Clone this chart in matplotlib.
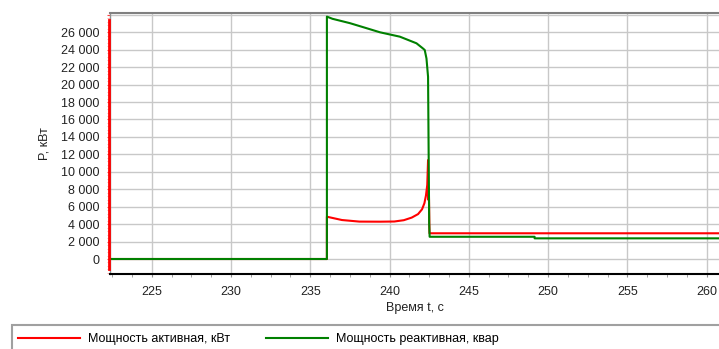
import matplotlib
matplotlib.use('Agg')
import matplotlib.pyplot as plt
from matplotlib.ticker import MultipleLocator, FuncFormatter
from matplotlib.patches import Rectangle
from matplotlib.lines import Line2D

plt.rcParams['font.family'] = ['Liberation Sans', 'DejaVu Sans']
plt.rcParams['font.size'] = 9

# Время, с и мощности
t_p = [222.37, 236.05, 236.05, 237.0, 238.1, 239.4, 240.3, 240.9, 241.4, 241.8,
       242.05, 242.2, 242.3, 242.38, 242.43, 242.44, 242.48, 242.52, 260.8]
p_akt = [0, 0, 4850, 4470, 4290, 4280, 4300, 4450, 4750, 5150,
         5700, 6400, 7300, 8500, 11350, 6800, 8100, 2950, 2950]

t_q = [222.37, 236.05, 236.05, 236.4, 237.5, 238.5, 239.4, 240.65, 241.7, 242.1,
       242.22, 242.33, 242.43, 242.49, 242.5, 242.53, 249.15, 249.15, 260.8]
q_react = [0, 0, 27800, 27550, 27050, 26500, 26000, 25500, 24740, 24160,
           23970, 23000, 20900, 6770, 4090, 2550, 2550, 2370, 2370]

labels = ['Мощность активная, кВт', 'Мощность реактивная, квар']


def fmt_kw(v, pos):
    if v > 27000:
        return ''
    return f'{int(v):,}'.replace(',', ' ')


fig = plt.figure(figsize=(7.19, 3.49), dpi=100)
ax = fig.add_axes([110 / 719, 75 / 349, 609 / 719, 260.7 / 349])

ax.plot(t_p, p_akt, color='#ff0000', lw=1.5, zorder=3)
ax.plot(t_q, q_react, color='#008000', lw=1.5, zorder=4)

ax.set_xlim(222.37, 260.78)
ax.set_ylim(-1720, 28180)

ax.xaxis.set_major_locator(MultipleLocator(5))
ax.xaxis.set_minor_locator(MultipleLocator(1.25))
ax.yaxis.set_major_locator(MultipleLocator(2000))
ax.yaxis.set_minor_locator(MultipleLocator(400))
ax.yaxis.set_major_formatter(FuncFormatter(fmt_kw))

ax.grid(True, which='major', color='#c8c8c8', lw=1)
ax.set_axisbelow(True)

ax.tick_params(axis='x', which='both', direction='out', length=2.5, color='#909090',
               pad=6, labelsize=9, labelcolor='#222222')
ax.tick_params(axis='y', which='major', direction='out', length=2.5, color='#ff4040',
               pad=5, labelsize=9, labelcolor='#222222')
ax.tick_params(axis='y', which='minor', direction='out', length=2, color='#ffa0a0')

for s in ['top', 'bottom', 'left', 'right']:
    ax.spines[s].set_linewidth(1.5)
ax.spines['top'].set_color('#808080')
ax.spines['bottom'].set_color('#000000')
ax.spines['left'].set_color('#909090')
ax.spines['left'].set_linewidth(1)
ax.spines['right'].set_visible(False)

# красная ось мощности
ax.plot([-0.002, -0.002], [0.02, 0.976], transform=ax.transAxes, color='#ff0000',
        lw=2, clip_on=False, zorder=5)

ax.set_xlabel('Время t, с', fontsize=9, labelpad=3, color='#222222')
ax.set_ylabel('P, кВт', fontsize=9, color='#222222')
ax.yaxis.set_label_coords(-0.097, 0.5)

# легенда
fig.patches.append(Rectangle((12 / 719, -10 / 349), 720 / 719, 34 / 349,
                             transform=fig.transFigure, fill=False,
                             edgecolor='#a0a0a0', lw=1.5))
handles = [Line2D([], [], color='#ff0000', lw=1.5), Line2D([], [], color='#008000', lw=1.5)]
fig.legend(handles, labels, loc='center left', bbox_to_anchor=(15 / 719, 10 / 349),
           ncol=2, frameon=False, fontsize=9, handlelength=5.0, handletextpad=0.6,
           columnspacing=2.9, borderaxespad=0, borderpad=0.2)

fig.savefig('out.png', dpi=100)
